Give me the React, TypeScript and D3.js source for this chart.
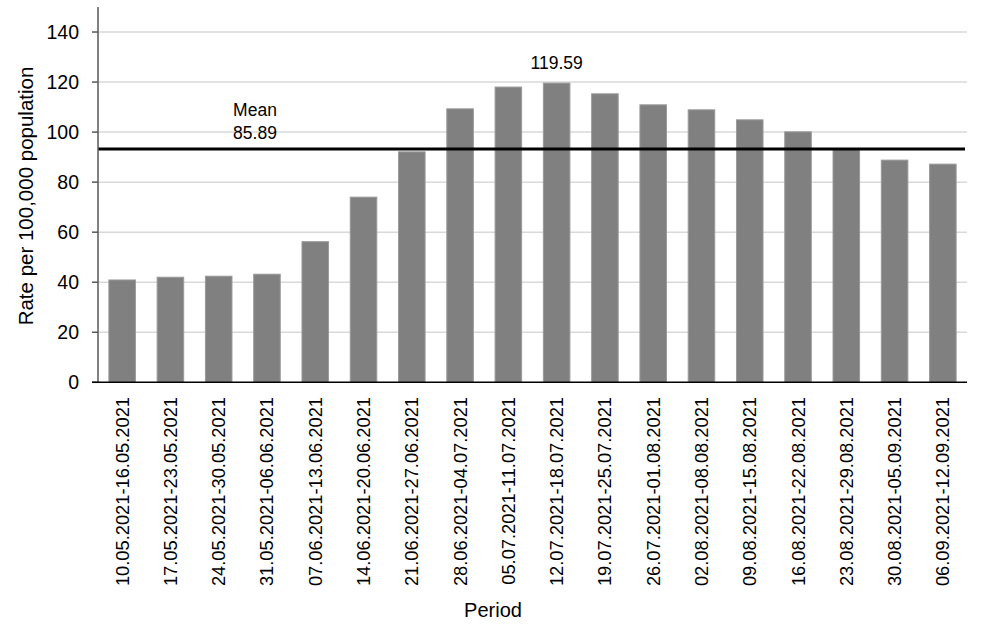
import React from "react";
import * as d3 from "d3";

const periods = [
  "10.05.2021-16.05.2021",
  "17.05.2021-23.05.2021",
  "24.05.2021-30.05.2021",
  "31.05.2021-06.06.2021",
  "07.06.2021-13.06.2021",
  "14.06.2021-20.06.2021",
  "21.06.2021-27.06.2021",
  "28.06.2021-04.07.2021",
  "05.07.2021-11.07.2021",
  "12.07.2021-18.07.2021",
  "19.07.2021-25.07.2021",
  "26.07.2021-01.08.2021",
  "02.08.2021-08.08.2021",
  "09.08.2021-15.08.2021",
  "16.08.2021-22.08.2021",
  "23.08.2021-29.08.2021",
  "30.08.2021-05.09.2021",
  "06.09.2021-12.09.2021",
];

const rates = [
  40.9, 42.0, 42.4, 43.2, 56.2, 74.0, 92.1, 109.3, 118.0, 119.59, 115.3, 110.9,
  108.9, 104.9, 100.1, 93.0, 88.8, 87.2,
];

const yTicks = [0, 20, 40, 60, 80, 100, 120, 140];
const meanLineValue = 93.2;
const meanLabel = ["Mean", "85.89"];
const peakLabel = "119.59";
const peakIndex = 9;

const FONT = "'Liberation Sans', Arial, sans-serif";

export default function App() {
  const W = 1004;
  const H = 628;
  const left = 98;
  const right = 967;
  const top = 7;
  const bottom = 382.3;

  const x = d3.scaleBand<string>().domain(periods).range([left, right]).paddingInner(0.45).paddingOuter(0.225);
  const y = d3.scaleLinear().domain([0, 150]).range([bottom, top]);

  return (
    <svg
      width={W}
      height={H}
      style={{ position: "absolute", left: 0, top: 0, background: "#fff" }}
      fontFamily={FONT}
    >
      {/* gridlines */}
      {yTicks.filter((t) => t > 0).map((t) => (
        <line key={"g" + t} x1={left} x2={right} y1={y(t)} y2={y(t)} stroke="#d9d9d9" strokeWidth={1.5} />
      ))}
      {/* bars */}
      {rates.map((v, i) => (
        <rect
          key={i}
          x={x(periods[i])!}
          y={y(v)}
          width={x.bandwidth()}
          height={bottom - y(v)}
          fill="#808080"
          stroke="#9a9a9a"
          strokeWidth={1}
        />
      ))}
      {/* mean line */}
      <line x1={left} x2={right - 2} y1={y(meanLineValue)} y2={y(meanLineValue)} stroke="#000" strokeWidth={3} />
      <text x={255} y={116} fontSize={17.5} textAnchor="middle" fill="#000">{meanLabel[0]}</text>
      <text x={255} y={139} fontSize={17.5} textAnchor="middle" fill="#000">{meanLabel[1]}</text>
      {/* peak label */}
      <text
        x={x(periods[peakIndex])! + x.bandwidth() / 2}
        y={69}
        fontSize={17.5}
        textAnchor="middle"
        fill="#000"
      >
        {peakLabel}
      </text>
      {/* y axis */}
      <line x1={left} x2={left} y1={top} y2={bottom} stroke="#595959" strokeWidth={1.5} />
      {yTicks.map((t) => (
        <g key={"t" + t}>
          <line x1={left - 6} x2={left} y1={y(t)} y2={y(t)} stroke="#595959" strokeWidth={1.5} />
          <text x={79} y={y(t)} dy="0.36em" fontSize={19.5} textAnchor="end" fill="#000">
            {t}
          </text>
        </g>
      ))}
      {/* x axis */}
      <line x1={left - 6} x2={right} y1={bottom} y2={bottom} stroke="#000" strokeWidth={1.5} />
      {periods.map((p) => {
        const cx = x(p)! + x.bandwidth() / 2;
        return (
          <text
            key={p}
            transform={`translate(${cx + 6.5},397) rotate(-90)`}
            fontSize={18.3}
            textAnchor="end"
            fill="#000"
          >
            {p}
          </text>
        );
      })}
      {/* axis titles */}
      <text x={493} y={617} fontSize={20} textAnchor="middle" fill="#000">Period</text>
      <text transform="translate(33,196) rotate(-90)" fontSize={20.5} textAnchor="middle" fill="#000">
        Rate per 100,000 population
      </text>
    </svg>
  );
}
